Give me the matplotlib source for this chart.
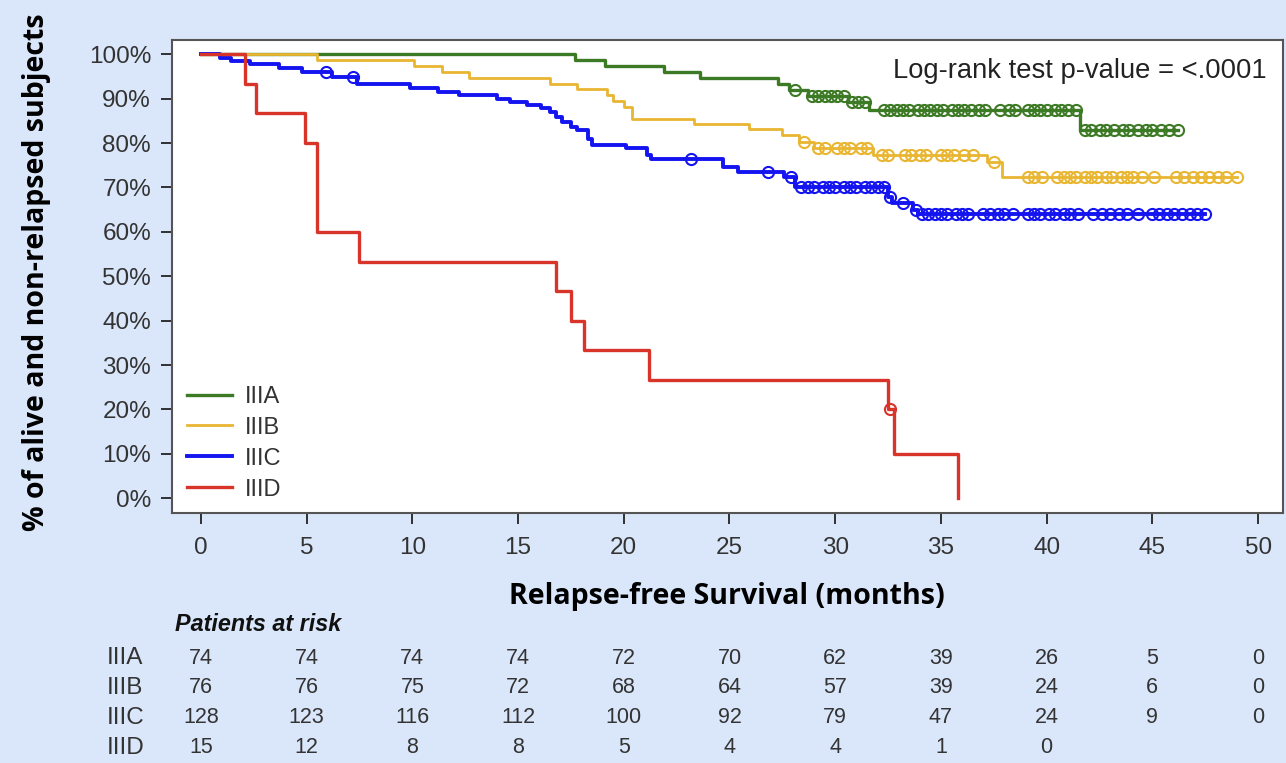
import numpy as np
import matplotlib.pyplot as plt
from matplotlib.transforms import blended_transform_factory

# ---- data ----
groups = ['IIIA', 'IIIB', 'IIIC', 'IIID']
colors = ['#3d7a25', '#e9b632', '#1414f0', '#d8342a']

# IIIA
a_t = [0, 17.7, 19.1, 21.9, 23.6, 27.3, 27.8, 28.7, 30.6, 31.6, 41.6]
a_s = [100, 98.6, 97.3, 95.9, 94.6, 93.2, 91.9, 90.6, 89.2, 87.4, 82.9]
a_end = 46.2
a_cens = [28.1, 28.9, 29.2, 29.5, 29.8, 30.1, 30.4, 30.8, 31.1, 31.4,
          32.3, 32.6, 32.9, 33.2, 33.5, 33.9, 34.2, 34.5, 34.8, 35.1, 35.5, 35.8,
          36.1, 36.4, 36.8, 37.1, 37.8, 38.2, 38.5, 39.1, 39.4, 39.7, 40.0, 40.4,
          40.7, 41.0, 41.4, 41.8, 42.1, 42.5, 42.8, 43.2, 43.6, 43.9, 44.3, 44.7,
          45.0, 45.4, 45.8, 46.2]

# IIIB
b_t = [0, 5.5, 10.1, 11.4, 12.7, 16.5, 17.8, 19.2, 19.5, 20.0, 20.4, 23.3,
       25.9, 27.5, 28.3, 29.0, 31.8, 37.2, 37.9]
b_s = [100, 98.7, 97.4, 96.1, 94.7, 93.4, 92.1, 90.9, 89.5, 88.0, 85.3, 84.3,
       83.1, 81.8, 80.3, 78.8, 77.3, 75.7, 72.4]
b_end = 49.0
b_cens = [28.5, 29.2, 29.5, 30.1, 30.4, 30.7, 31.2, 31.5, 32.2, 32.5, 33.3,
          33.6, 34.0, 34.3, 35.0, 35.3, 35.6, 36.1, 36.5, 37.5,
          39.1, 39.4, 39.8, 40.5, 40.8, 41.1, 41.4, 41.8, 42.1, 42.4, 42.8, 43.1,
          43.5, 43.8, 44.1, 44.5, 45.1, 46.1, 46.5, 46.9, 47.3, 47.7, 48.1, 48.5,
          49.0]

# IIIC
c_t = [0, 0.9, 1.4, 2.3, 3.7, 4.8, 6.2, 7.4, 9.9, 11.2, 12.2, 14.0, 14.6,
       15.4, 16.1, 16.5, 16.8, 17.1, 17.5, 17.8, 18.3, 18.5, 20.1, 21.1, 21.3,
       24.7, 25.4, 27.6, 28.1, 32.5, 32.7, 33.7, 33.9]
c_s = [100, 99.2, 98.4, 97.7, 96.9, 96.1, 94.9, 93.4, 92.3, 91.5, 90.8, 90.0,
       89.3, 88.5, 87.8, 87.0, 85.9, 84.8, 83.6, 82.9, 81.0, 79.6, 78.8, 77.3,
       76.3, 74.6, 73.5, 72.4, 70.2, 67.9, 66.4, 64.9, 64.0]
c_end = 47.5
c_cens = [5.9, 7.2, 23.2, 26.8, 27.9, 28.4, 28.7, 29.0, 29.4, 29.7, 30.0,
          30.4, 30.7, 31.0, 31.4, 31.7, 32.0, 32.3, 32.6, 33.2, 33.8,
          34.1, 34.4, 34.7, 35.0, 35.3, 35.7, 36.0, 36.3, 37.0, 37.3, 37.7, 38.0,
          38.4, 39.1, 39.4, 39.7, 40.1, 40.4, 40.8, 41.1, 41.5, 42.2, 42.6, 43.0,
          43.4, 43.8, 44.3, 45.0, 45.3, 45.7, 46.0, 46.4, 46.8, 47.1, 47.5]

# IIID
d_t = [0, 2.1, 2.6, 4.9, 5.5, 7.5, 16.8, 17.5, 18.1, 21.2, 32.5, 32.8, 35.8]
d_s = [100, 93.3, 86.7, 80.0, 60.0, 53.3, 46.7, 40.0, 33.3, 26.7, 20.0, 10.0, 0]
d_end = 35.8
d_cens = [32.6]

curves = [(a_t, a_s, a_end, a_cens), (b_t, b_s, b_end, b_cens),
          (c_t, c_s, c_end, c_cens), (d_t, d_s, d_end, d_cens)]
widths = [2.4, 2.0, 2.8, 2.4]

# patients at risk
risk_times = [0, 5, 10, 15, 20, 25, 30, 35, 40, 45, 50]
risk_a = [74, 74, 74, 74, 72, 70, 62, 39, 26, 5, 0]
risk_b = [76, 76, 75, 72, 68, 64, 57, 39, 24, 6, 0]
risk_c = [128, 123, 116, 112, 100, 92, 79, 47, 24, 9, 0]
risk_d = [15, 12, 8, 8, 5, 4, 4, 1, 0]
risk_rows = [risk_a, risk_b, risk_c, risk_d]

bg = '#dae6f9'
tick_col = '#333333'
sans = 'Liberation Sans'

fig = plt.figure(figsize=(12.86, 7.63), dpi=100, facecolor=bg)
ax = fig.add_axes([0.1337, 0.3277, 0.8640, 0.6199])
ax.set_facecolor('white')

for (t, s, end, cens), col, lw, name in zip(curves, colors, widths, groups):
    tt = list(t) + [end]
    ss = list(s) + [s[-1]]
    ax.step(tt, ss, where='post', color=col, lw=lw, label=name)
    idx = np.searchsorted(t, cens, side='right') - 1
    cy = [s[i] for i in idx]
    ax.plot(cens, cy, 'o', mfc='none', mec=col, ms=8, mew=1.5)

ax.set_xlim(-1.37, 51.18)
ax.set_ylim(-3.3, 103.2)
ax.set_xticks(risk_times)
ax.set_yticks(range(0, 101, 10))
ax.set_yticklabels([f'{v}%' for v in range(0, 101, 10)])
ax.tick_params(direction='out', length=8, width=1.3, color='#222222',
               labelsize=17.5, labelcolor=tick_col, pad=7)
ax.tick_params(axis='x', pad=9)
for lab in ax.get_xticklabels() + ax.get_yticklabels():
    lab.set_family(sans)
for sp in ax.spines.values():
    sp.set_color('#555555')
    sp.set_linewidth(1.5)

ax.text(0.985, 0.962, 'Log-rank test p-value = <.0001', transform=ax.transAxes,
        ha='right', va='top', fontsize=19.7, color='#222222', family=sans)

leg = ax.legend(loc='lower left', bbox_to_anchor=(0.005, 0.006), frameon=False,
                borderaxespad=0, prop={'family': sans, 'size': 17},
                handlelength=1.9, handletextpad=0.55,
                labelspacing=0.38, labelcolor='#333333')

fig.text(0.028, 0.643, '% of alive and non-relapsed subjects', rotation=90,
         ha='center', va='center', fontsize=20.5, fontweight='bold',
         family='Open Sans')
fig.text(0.565, 0.218, 'Relapse-free Survival (months)', ha='center',
         va='center', fontsize=20.5, fontweight='bold', family='Open Sans')

# risk table
trans = blended_transform_factory(ax.transData, fig.transFigure)
fig.text(0.136, 0.181, 'Patients at risk', fontsize=16.8, fontweight='bold',
         style='italic', color='#111111', va='center', family=sans)
row_y = [0.1376, 0.0983, 0.0590, 0.0197]
for name, row, y in zip(groups, risk_rows, row_y):
    fig.text(0.083, y, name, fontsize=17.5, color=tick_col, va='center',
             family=sans)
    for xt, n in zip(risk_times, row):
        ax.text(xt, y, str(n), transform=trans, ha='center', va='center',
                fontsize=15.5, color=tick_col, clip_on=False, family=sans)

fig.savefig('out.png', dpi=100, facecolor=bg)
